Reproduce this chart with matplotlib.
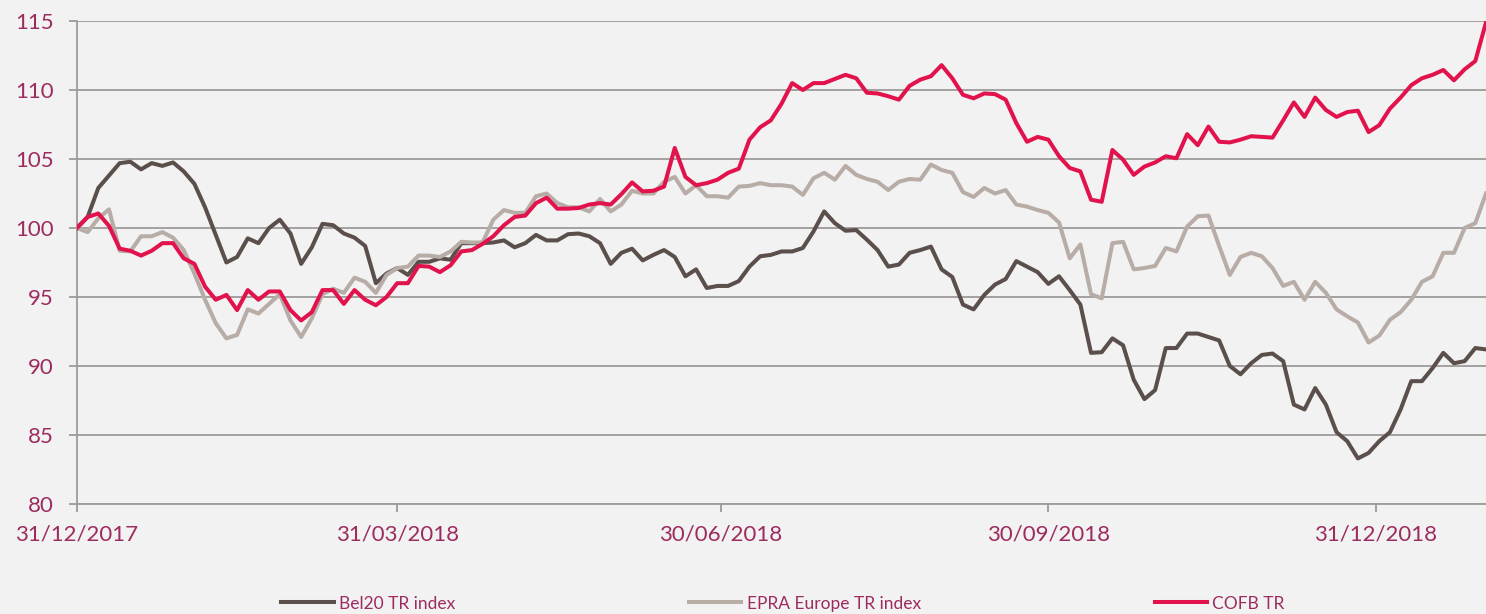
import pandas as pd
import matplotlib
matplotlib.use("Agg")
import matplotlib.pyplot as plt
import matplotlib.dates as mdates

# x grid: one reading every 3 calendar days from 31/12/2017 to 31/01/2019
START = "2017-12-31"
END = "2019-01-31"
STEP = "3D"

SERIES_NAMES = ["Bel20 TR index", "EPRA Europe TR index", "COFB TR"]

BEL20 = [
    100.0, 100.8, 102.9, 103.8, 104.7, 104.8, 104.25, 104.7, 104.5, 104.75,
    104.1, 103.2, 101.5, 99.5, 97.5, 97.9, 99.25, 98.9, 100.0, 100.6,
    99.6, 97.4, 98.6, 100.3, 100.2, 99.6, 99.3, 98.7, 96.0, 96.7,
    97.1, 96.6, 97.55, 97.55, 97.8, 97.7, 98.9, 98.9, 98.9, 98.95,
    99.1, 98.6, 98.9, 99.5, 99.1, 99.1, 99.55, 99.6, 99.4, 98.9,
    97.4, 98.2, 98.5, 97.65, 98.05, 98.4, 97.9, 96.5, 97.0, 95.65,
    95.8, 95.8, 96.15, 97.2, 97.95, 98.05, 98.3, 98.3, 98.55, 99.75,
    101.2, 100.35, 99.8, 99.85, 99.15, 98.4, 97.2, 97.35, 98.2, 98.4,
    98.65, 97.0, 96.45, 94.45, 94.1, 95.15, 95.9, 96.3, 97.6, 97.2,
    96.8, 95.95, 96.5, 95.5, 94.45, 90.95, 91.0, 92.0, 91.5, 89.0,
    87.6, 88.25, 91.3, 91.3, 92.35, 92.35, 92.1, 91.85, 90.0, 89.4,
    90.2, 90.8, 90.9, 90.35, 87.2, 86.85, 88.4, 87.2, 85.2, 84.55,
    83.3, 83.7, 84.55, 85.2, 86.85, 88.9, 88.9, 89.85, 90.95, 90.2,
    90.35, 91.3, 91.2,
]

EPRA = [
    100.0, 99.7, 100.7, 101.35, 98.35, 98.3, 99.4, 99.4, 99.7, 99.3,
    98.4, 96.7, 94.8, 93.1, 92.0, 92.25, 94.1, 93.8, 94.5, 95.2,
    93.3, 92.1, 93.45, 95.2, 95.6, 95.3, 96.4, 96.1, 95.3, 96.6,
    97.1, 97.2, 98.0, 98.0, 97.9, 98.3, 99.0, 98.95, 98.95, 100.6,
    101.3, 101.1, 101.1, 102.3, 102.5, 101.8, 101.5, 101.5, 101.2, 102.1,
    101.2, 101.7, 102.7, 102.5, 102.5, 103.35, 103.7, 102.5, 103.1, 102.3,
    102.3, 102.2, 103.0, 103.05, 103.25, 103.1, 103.1, 103.0, 102.4, 103.6,
    104.0, 103.5, 104.5, 103.85, 103.55, 103.35, 102.75, 103.35, 103.55, 103.5,
    104.6, 104.2, 104.0, 102.6, 102.25, 102.9, 102.5, 102.75, 101.7, 101.55,
    101.3, 101.1, 100.4, 97.8, 98.8, 95.2, 94.9, 98.9, 99.0, 97.0,
    97.1, 97.25, 98.55, 98.3, 100.1, 100.85, 100.9, 98.7, 96.6, 97.9,
    98.2, 97.95, 97.1, 95.8, 96.1, 94.8, 96.1, 95.3, 94.1, 93.6,
    93.15, 91.7, 92.2, 93.35, 93.9, 94.8, 96.1, 96.5, 98.2, 98.2,
    100.0, 100.35, 102.5,
]

COFB = [
    100.0, 100.8, 101.05, 100.15, 98.5, 98.35, 98.0, 98.35, 98.9, 98.9,
    97.8, 97.4, 95.75, 94.8, 95.15, 94.05, 95.5, 94.8, 95.4, 95.4,
    94.05, 93.3, 93.9, 95.5, 95.5, 94.5, 95.5, 94.8, 94.4, 95.0,
    96.0, 96.0, 97.25, 97.2, 96.8, 97.3, 98.3, 98.4, 98.85, 99.4,
    100.2, 100.8, 100.9, 101.8, 102.2, 101.4, 101.4, 101.45, 101.7, 101.8,
    101.7, 102.45, 103.3, 102.65, 102.7, 103.0, 105.8, 103.7, 103.1, 103.25,
    103.5, 104.0, 104.3, 106.4, 107.3, 107.8, 109.0, 110.5, 110.0, 110.5,
    110.5, 110.8, 111.1, 110.85, 109.8, 109.75, 109.55, 109.3, 110.3, 110.75,
    111.0, 111.8, 110.85, 109.65, 109.4, 109.75, 109.7, 109.3, 107.6, 106.25,
    106.6, 106.4, 105.2, 104.35, 104.1, 102.05, 101.9, 105.65, 104.95, 103.85,
    104.45, 104.75, 105.2, 105.05, 106.8, 106.0, 107.35, 106.25, 106.2, 106.4,
    106.65, 106.6, 106.55, 107.8, 109.1, 108.05, 109.45, 108.55, 108.05, 108.4,
    108.5, 106.95, 107.45, 108.65, 109.45, 110.35, 110.85, 111.1, 111.45, 110.7,
    111.5, 112.1, 114.9,
]

TICK_DATES = ["2017-12-31", "2018-03-31", "2018-06-30", "2018-09-30", "2018-12-31"]
Y_TICKS = [80, 85, 90, 95, 100, 105, 110, 115]

# styling
BG = "#f2f2f2"
GRID = "#a09a9a"
LABEL = "#9c2b60"
COLORS = ["#5a4f4b", "#b8aca7", "#e2134c"]
FONT = "Lato"


def build_frame():
    dates = pd.date_range(START, END, freq=STEP)
    return pd.DataFrame({
        SERIES_NAMES[0]: BEL20,
        SERIES_NAMES[1]: EPRA,
        SERIES_NAMES[2]: COFB,
    }, index=dates)


def draw_chart(df):
    plt.rcParams['font.family'] = [FONT, 'DejaVu Sans']

    fig = plt.figure(figsize=(14.86, 6.14), dpi=100, facecolor=BG)
    ax = fig.add_axes([0.0518, 0.1792, 0.9482, 0.7866])
    ax.set_facecolor(BG)

    handles = []
    for name, color in zip(SERIES_NAMES, COLORS):
        line, = ax.plot(df.index, df[name], color=color, linewidth=2.9,
                        solid_joinstyle='round', label=name, zorder=3)
        handles.append(line)

    ax.set_xlim(pd.Timestamp(START), pd.Timestamp(END))
    ax.set_ylim(Y_TICKS[0], Y_TICKS[-1])
    ax.set_yticks(Y_TICKS)
    ax.set_xticks(pd.to_datetime(TICK_DATES))
    ax.xaxis.set_major_formatter(mdates.DateFormatter('%d/%m/%Y'))

    ax.yaxis.grid(True, color=GRID, linewidth=1.3)
    ax.set_axisbelow(True)
    for side in ['top', 'right']:
        ax.spines[side].set_visible(False)
    for side in ['left', 'bottom']:
        ax.spines[side].set_color(GRID)
        ax.spines[side].set_linewidth(1.3)

    ax.tick_params(axis='y', length=6, width=1.3, color=GRID, pad=11,
                   labelsize=16, labelcolor=LABEL)
    ax.tick_params(axis='x', length=5.5, width=1.3, color=GRID, pad=9,
                   labelsize=16, labelcolor=LABEL)

    fig.legend(handles, SERIES_NAMES, loc='center', bbox_to_anchor=(0.527, 0.017),
               ncol=3, frameon=False, handlelength=3.0, handletextpad=0.3,
               columnspacing=13.5, fontsize=12.5, labelcolor=LABEL)

    fig.savefig("out.png", dpi=100, facecolor=BG)


def main():
    df = build_frame()
    draw_chart(df)


if __name__ == "__main__":
    main()
